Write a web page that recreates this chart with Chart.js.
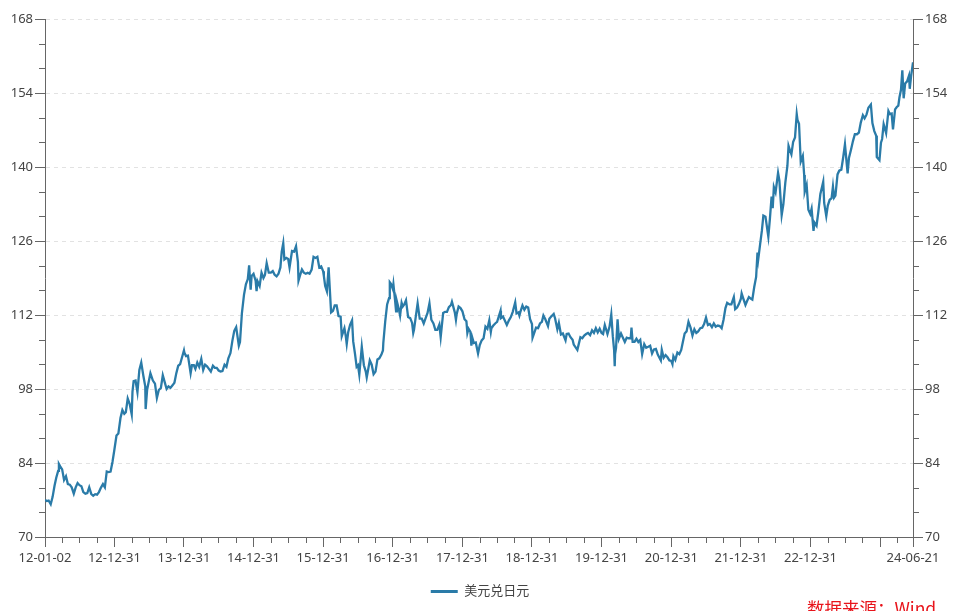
<!DOCTYPE html>
<html><head><meta charset="utf-8">
<script src="https://cdn.jsdelivr.net/npm/chart.js@4.4.1/dist/chart.umd.min.js"></script>
<style>
html,body{margin:0;padding:0;background:#fff;overflow:hidden;}
#wrap{position:relative;width:960px;height:611px;}
#src{position:absolute;left:807px;top:599px;font-size:17.5px;font-family:'Noto Sans CJK SC',sans-serif;color:#e8141b;line-height:18px;white-space:nowrap;}
</style></head>
<body><div id="wrap"><canvas id="c" width="960" height="611"></canvas><div id="src">数据来源：Wind</div></div>
<script>
const seriesName = '美元兑日元';
const dates = [
'2012-01-02','2012-01-11','2012-01-21','2012-02-01','2012-02-11','2012-02-21','2012-03-01','2012-03-11','2012-03-15','2012-03-21','2012-04-01','2012-04-11','2012-04-21','2012-05-01','2012-05-11','2012-05-21','2012-06-01','2012-06-11','2012-06-21','2012-07-01','2012-07-11','2012-07-21','2012-08-01','2012-08-11','2012-08-21','2012-09-01','2012-09-11','2012-09-21','2012-10-01','2012-10-11','2012-10-21','2012-11-01','2012-11-11','2012-11-21','2012-12-01','2012-12-11','2012-12-21','2012-12-31',
'2013-01-11','2013-01-21','2013-02-01','2013-02-11','2013-02-21','2013-03-01','2013-03-11','2013-03-21','2013-04-01','2013-04-05','2013-04-11','2013-04-21','2013-05-01','2013-05-11','2013-05-21','2013-06-01','2013-06-11','2013-06-13','2013-06-21','2013-07-01','2013-07-08','2013-07-21','2013-08-01','2013-08-11','2013-08-21','2013-09-01','2013-09-11','2013-09-21','2013-10-01','2013-10-11','2013-10-21','2013-11-01','2013-11-11','2013-11-21','2013-12-01','2013-12-11','2013-12-21','2013-12-31',
'2014-01-02','2014-01-11','2014-01-21','2014-02-04','2014-02-11','2014-02-21','2014-03-01','2014-03-11','2014-03-21','2014-04-01','2014-04-11','2014-04-21','2014-05-01','2014-05-11','2014-05-21','2014-06-01','2014-06-11','2014-06-21','2014-07-01','2014-07-11','2014-07-21','2014-08-01','2014-08-11','2014-08-21','2014-09-01','2014-09-11','2014-09-21','2014-10-01','2014-10-15','2014-10-21','2014-10-31','2014-11-11','2014-11-21','2014-12-01','2014-12-08','2014-12-16','2014-12-21','2014-12-31',
'2015-01-11','2015-01-16','2015-01-21','2015-02-01','2015-02-11','2015-02-21','2015-03-01','2015-03-10','2015-03-21','2015-04-01','2015-04-11','2015-04-21','2015-05-01','2015-05-11','2015-05-21','2015-05-28','2015-06-05','2015-06-11','2015-06-21','2015-07-01','2015-07-08','2015-07-21','2015-08-01','2015-08-11','2015-08-21','2015-08-24','2015-09-01','2015-09-11','2015-09-21','2015-10-01','2015-10-11','2015-10-21','2015-11-01','2015-11-11','2015-11-21','2015-12-01','2015-12-11','2015-12-21','2015-12-31',
'2016-01-04','2016-01-11','2016-01-20','2016-01-29','2016-02-11','2016-02-21','2016-03-01','2016-03-11','2016-03-21','2016-04-01','2016-04-07','2016-04-21','2016-04-28','2016-05-03','2016-05-11','2016-05-21','2016-05-31','2016-06-06','2016-06-16','2016-06-24','2016-07-01','2016-07-08','2016-07-21','2016-08-01','2016-08-11','2016-08-16','2016-09-01','2016-09-11','2016-09-21','2016-10-01','2016-10-11','2016-10-21','2016-11-01','2016-11-09','2016-11-11','2016-11-21','2016-12-01','2016-12-11','2016-12-15','2016-12-21','2016-12-31',
'2017-01-03','2017-01-11','2017-01-17','2017-01-21','2017-02-01','2017-02-07','2017-02-15','2017-02-21','2017-03-01','2017-03-10','2017-03-21','2017-04-01','2017-04-11','2017-04-17','2017-04-21','2017-05-01','2017-05-10','2017-05-21','2017-06-01','2017-06-11','2017-06-21','2017-07-01','2017-07-11','2017-07-21','2017-08-01','2017-08-11','2017-08-21','2017-09-01','2017-09-08','2017-09-21','2017-10-01','2017-10-11','2017-10-21','2017-11-01','2017-11-06','2017-11-21','2017-11-27','2017-12-01','2017-12-11','2017-12-21','2017-12-31',
'2018-01-11','2018-01-21','2018-01-26','2018-02-01','2018-02-11','2018-02-16','2018-02-21','2018-03-01','2018-03-11','2018-03-23','2018-04-01','2018-04-11','2018-04-21','2018-05-01','2018-05-11','2018-05-21','2018-05-29','2018-06-01','2018-06-11','2018-06-21','2018-07-01','2018-07-19','2018-07-21','2018-08-01','2018-08-11','2018-08-21','2018-09-01','2018-09-11','2018-09-21','2018-10-04','2018-10-11','2018-10-21','2018-10-26','2018-11-01','2018-11-11','2018-11-21','2018-12-01','2018-12-11','2018-12-21','2018-12-31',
'2019-01-03','2019-01-11','2019-01-21','2019-02-01','2019-02-11','2019-02-21','2019-03-01','2019-03-11','2019-03-25','2019-04-01','2019-04-11','2019-04-24','2019-05-01','2019-05-13','2019-05-21','2019-06-01','2019-06-11','2019-06-25','2019-07-01','2019-07-11','2019-07-21','2019-08-01','2019-08-07','2019-08-26','2019-09-01','2019-09-11','2019-09-21','2019-10-01','2019-10-11','2019-10-21','2019-11-01','2019-11-11','2019-11-21','2019-12-01','2019-12-11','2019-12-21','2019-12-31',
'2020-01-08','2020-01-17','2020-01-31','2020-02-11','2020-02-20','2020-02-28','2020-03-06','2020-03-09','2020-03-11','2020-03-16','2020-03-24','2020-03-31','2020-04-11','2020-04-21','2020-05-01','2020-05-11','2020-05-21','2020-06-01','2020-06-05','2020-06-11','2020-06-21','2020-07-01','2020-07-11','2020-07-21','2020-07-31','2020-08-11','2020-08-21','2020-09-01','2020-09-11','2020-09-21','2020-10-01','2020-10-11','2020-10-21','2020-11-06','2020-11-11','2020-11-21','2020-12-01','2020-12-11','2020-12-21','2020-12-31',
'2021-01-06','2021-01-11','2021-01-21','2021-02-01','2021-02-11','2021-02-21','2021-03-01','2021-03-11','2021-03-21','2021-03-31','2021-04-11','2021-04-21','2021-05-01','2021-05-11','2021-05-21','2021-06-01','2021-06-11','2021-06-21','2021-07-01','2021-07-11','2021-07-21','2021-08-01','2021-08-11','2021-08-21','2021-09-01','2021-09-11','2021-09-21','2021-10-01','2021-10-11','2021-10-20','2021-11-01','2021-11-11','2021-11-24','2021-12-01','2021-12-11','2021-12-21','2021-12-31',
'2022-01-04','2022-01-11','2022-01-24','2022-02-01','2022-02-11','2022-02-24','2022-03-01','2022-03-11','2022-03-21','2022-03-28','2022-04-01','2022-04-11','2022-04-20','2022-04-28','2022-05-09','2022-05-24','2022-06-01','2022-06-10','2022-06-16','2022-06-22','2022-07-01','2022-07-14','2022-07-21','2022-08-02','2022-08-11','2022-08-21','2022-09-01','2022-09-07','2022-09-14','2022-09-22','2022-10-01','2022-10-11','2022-10-20','2022-10-24','2022-11-01','2022-11-10','2022-11-21','2022-11-28','2022-12-01','2022-12-11','2022-12-20','2022-12-30',
'2023-01-06','2023-01-16','2023-01-21','2023-02-01','2023-02-10','2023-02-21','2023-03-01','2023-03-08','2023-03-13','2023-03-24','2023-04-01','2023-04-11','2023-04-21','2023-04-28','2023-05-04','2023-05-11','2023-05-22','2023-05-31','2023-06-11','2023-06-21','2023-06-30','2023-07-14','2023-07-21','2023-08-01','2023-08-11','2023-08-21','2023-09-01','2023-09-11','2023-09-21','2023-10-02','2023-10-11','2023-10-21','2023-10-31','2023-11-13','2023-11-21','2023-12-01','2023-12-11','2023-12-14','2023-12-28',
'2024-01-05','2024-01-11','2024-01-19','2024-02-01','2024-02-13','2024-02-21','2024-03-01','2024-03-08','2024-03-19','2024-03-27','2024-04-05','2024-04-11','2024-04-19','2024-04-26','2024-05-03','2024-05-11','2024-05-21','2024-05-31','2024-06-04','2024-06-11','2024-06-21'
];
const usdJpy = [
77.0,76.8,76.9,76.2,77.6,79.7,81.2,82.5,83.8,83.4,82.8,80.8,81.5,80.0,79.9,79.4,78.2,79.4,80.2,79.8,79.6,78.5,78.2,78.3,79.4,78.1,77.8,78.1,78.0,78.5,79.3,80.0,79.4,82.4,82.3,82.4,84.2,86.5,
89.2,89.6,92.5,94.0,93.3,93.6,96.2,95.2,93.2,97.5,99.5,99.6,97.4,101.6,103.0,100.5,98.5,94.2,97.9,99.7,101.0,99.6,99.0,96.3,97.8,98.2,100.6,99.3,98.0,98.5,98.2,98.7,99.2,101.0,102.4,102.7,104.0,105.3,
104.9,104.2,104.3,101.0,102.5,102.5,101.8,103.0,102.2,103.7,101.6,102.6,102.3,101.8,101.3,102.4,102.0,102.0,101.5,101.3,101.4,102.6,102.2,103.8,104.8,107.1,109.0,109.7,106.2,106.9,112.3,115.8,117.8,118.8,121.4,116.8,119.4,119.8,
118.5,116.5,118.4,117.5,120.0,119.0,119.6,121.8,120.0,120.0,120.3,119.6,119.3,119.8,121.0,124.0,125.6,122.5,122.8,122.6,121.0,124.1,124.0,125.0,122.0,118.5,119.5,120.6,120.0,119.8,120.0,119.8,120.6,123.0,122.8,123.0,121.0,121.2,120.3,
119.4,117.5,116.5,121.0,112.5,112.8,113.8,113.8,111.8,111.7,108.0,109.5,108.0,106.5,108.8,110.2,111.0,107.0,104.5,102.2,102.5,100.7,106.0,102.5,101.3,100.2,103.4,102.6,100.8,101.3,103.6,103.8,104.5,105.3,106.7,110.8,114.0,115.2,118.2,117.9,116.9,
117.8,115.0,112.7,114.6,113.0,111.9,114.3,113.6,114.0,114.8,111.6,111.4,110.5,108.6,109.2,111.9,114.2,111.3,111.3,110.4,111.4,112.4,114.2,111.1,110.4,109.2,109.2,110.2,107.8,112.4,112.6,112.6,113.5,113.9,114.5,112.5,111.1,112.2,113.6,113.3,112.7,
111.2,110.8,108.6,109.4,108.8,106.2,107.7,106.7,106.8,104.7,106.3,107.2,107.6,109.8,109.4,111.0,108.8,109.5,110.0,110.4,110.7,112.8,111.4,111.7,110.9,110.1,111.0,111.6,112.6,114.4,112.3,112.5,111.9,112.7,113.8,113.0,113.6,113.4,111.2,110.3,
107.7,108.5,109.6,109.5,110.4,110.7,111.9,111.2,109.9,111.3,111.7,112.2,111.4,109.3,110.5,108.3,108.5,107.2,108.4,108.5,107.8,107.3,106.4,105.4,106.3,107.8,107.6,108.1,108.4,108.6,108.2,109.1,108.6,109.5,108.7,109.4,108.6,
108.4,110.1,108.4,109.8,112.1,108.0,105.3,102.3,104.6,105.8,111.2,107.5,108.5,107.7,106.9,107.7,107.6,107.6,109.6,106.9,106.9,107.5,106.9,107.3,104.6,106.5,105.8,106.0,106.2,104.7,105.5,105.6,104.5,103.4,105.4,103.9,104.4,104.0,103.4,103.3,
102.7,104.2,103.5,104.9,104.6,105.4,106.8,108.5,108.9,110.7,109.6,108.1,109.3,108.6,108.9,109.5,109.6,110.3,111.5,110.1,110.3,109.7,110.4,109.8,110.0,109.9,109.5,111.1,113.3,114.3,114.0,114.0,115.4,113.1,113.4,114.1,115.1,
116.1,115.3,113.9,114.6,115.4,115.0,114.9,117.3,119.2,123.8,122.5,125.4,127.9,130.8,130.6,126.8,130.1,134.4,132.2,136.2,135.2,138.9,137.4,130.9,133.0,137.0,140.2,144.0,143.2,142.4,144.7,145.6,150.0,148.9,148.2,141.0,142.1,138.5,135.3,136.6,131.9,131.1,
132.1,127.9,129.5,128.9,131.4,134.9,136.1,137.2,133.2,130.7,132.7,133.8,134.1,136.3,134.2,134.6,138.6,139.3,139.5,141.9,144.3,138.8,141.7,143.3,144.9,146.2,146.2,146.5,148.4,149.8,149.2,149.9,151.2,151.8,148.3,146.8,145.9,141.9,141.3,
144.6,145.3,148.1,146.4,150.6,150.0,150.1,147.1,150.9,151.3,151.6,153.2,154.6,158.3,153.0,155.8,156.2,157.3,154.8,157.2,159.8
];
const xMajorTicks = ['2012-01-02','2012-12-31','2013-12-31','2014-12-31','2015-12-31','2016-12-31','2017-12-31','2018-12-31','2019-12-31','2020-12-31','2021-12-31','2022-12-31','2023-12-31','2024-06-21'];
const xTickLabels = ['12-01-02','12-12-31','13-12-31','14-12-31','15-12-31','16-12-31','17-12-31','18-12-31','19-12-31','20-12-31','21-12-31','22-12-31','','24-06-21'];
const xMinorMonthDays = ['03-31','06-30','09-30'];
const yTicks = [70,84,98,112,126,140,154,168];

const ts = d => Date.parse(d + 'T00:00:00Z');
const xMinorTicks = [];
for (let y = 2012; y <= 2024; y++) xMinorMonthDays.forEach(md => { const t = ts(y + '-' + md); if (t < ts(xMajorTicks[xMajorTicks.length-1])) xMinorTicks.push(t); });

const LINE = '#2a7ba8';
const AXIS = '#666666';
const TXT = '#444444';
const FONT = "'Noto Sans','Noto Sans CJK SC',sans-serif";

const minorTickPlugin = {
  id: 'minorTicks',
  afterDraw(chart) {
    const ctx = chart.ctx, x = chart.scales.x, yl = chart.scales.y, yr = chart.scales.y2;
    ctx.save();
    ctx.strokeStyle = AXIS; ctx.lineWidth = 1; ctx.setLineDash([]);
    ctx.beginPath();
    xMinorTicks.forEach(t => {
      const px = Math.round(x.getPixelForValue(t)) + 0.5;
      ctx.moveTo(px, x.top); ctx.lineTo(px, x.top + 6);
    });
    for (let i = 0; i < yTicks.length - 1; i++) {
      for (let k = 1; k < 3; k++) {
        const v = yTicks[i] + k * (yTicks[i+1] - yTicks[i]) / 3;
        const py = Math.round(yl.getPixelForValue(v)) + 0.5;
        ctx.moveTo(yl.right - 6, py); ctx.lineTo(yl.right, py);
        ctx.moveTo(yr.left, py); ctx.lineTo(yr.left + 6, py);
      }
    }
    ctx.stroke();
    ctx.restore();
  }
};

const yAxis = (pos, w, onArea) => ({
  type: 'linear', position: pos, min: 70, max: 168,
  afterBuildTicks: s => { s.ticks = yTicks.map(v => ({value: v})); },
  afterFit: s => { s.width = w; },
  ticks: { color: TXT, font: {family: FONT, size: 13}, padding: 2 },
  grid: { drawOnChartArea: onArea, color: '#e2e2e2', lineWidth: 1, tickColor: AXIS, tickLength: 10, tickBorderDash: [] },
  border: { color: AXIS, width: 1, dash: [4, 4] }
});

new Chart(document.getElementById('c'), {
  type: 'line',
  data: {
    datasets: [{
      label: seriesName,
      data: dates.map((d, i) => ({x: ts(d), y: usdJpy[i]})),
      borderColor: LINE, backgroundColor: LINE,
      borderWidth: 2.3, pointRadius: 0, tension: 0, yAxisID: 'y'
    }]
  },
  options: {
    responsive: false, animation: false,
    layout: { padding: {top: 19, bottom: 3, left: 0, right: 0} },
    scales: {
      x: {
        type: 'linear', min: ts(xMajorTicks[0]), max: ts(xMajorTicks[xMajorTicks.length-1]),
        afterBuildTicks: s => { s.ticks = xMajorTicks.map(d => ({value: ts(d)})); },
        afterFit: s => { s.height = 38; },
        ticks: { autoSkip: false, maxRotation: 0, minRotation: 0, color: TXT, font: {family: FONT, size: 13}, padding: 3,
                 callback: (v, i) => xTickLabels[i] },
        grid: { drawOnChartArea: false, tickColor: AXIS, tickLength: 10 },
        border: { color: AXIS, width: 1 }
      },
      y: yAxis('left', 45, true),
      y2: yAxis('right', 47, false)
    },
    plugins: {
      legend: {
        position: 'bottom',
        labels: {
          boxWidth: 27, boxHeight: 3, padding: 10, color: TXT, font: {family: FONT, size: 13},
          generateLabels: chart => Chart.defaults.plugins.legend.labels.generateLabels(chart).map(l => Object.assign(l, {lineWidth: 0}))
        }
      },
      tooltip: { enabled: false }
    }
  },
  plugins: [minorTickPlugin]
});
</script>
</body></html>
